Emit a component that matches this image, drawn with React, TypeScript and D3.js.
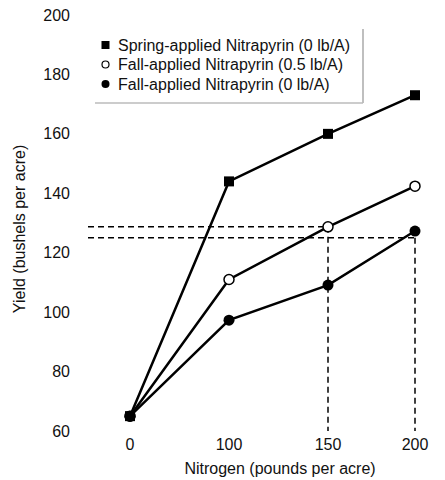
import React from "react";
import * as d3 from "d3";

const nitrogen = [0, 100, 150, 200];
const springZero = [65, 144, 160, 173];
const fallHalf = [65, 111, 128.7, 142.4];
const fallZero = [65, 97.3, 109.1, 127.3];
const yTicks = [60, 80, 100, 120, 140, 160, 180, 200];
const xTicks = [0, 100, 150, 200];
const legendLabels = [
  "Spring-applied Nitrapyrin (0 lb/A)",
  "Fall-applied Nitrapyrin (0.5 lb/A)",
  "Fall-applied Nitrapyrin (0 lb/A)",
];
const refX = [150, 200];
const refY = [128.7, 125];
const refStartX = -42;

const W = 445, H = 480;
const FONT = "'Liberation Sans', Arial, Helvetica, sans-serif";

export default function App() {
  // Non-uniform horizontal positions as in the original figure (polylinear scale)
  const x = d3.scaleLinear().domain([-42, 0, 100, 150, 200]).range([88, 130, 229, 328, 415]);
  const y = d3.scaleLinear().domain([60, 200]).range([431, 15]);

  const line = d3
    .line<number>()
    .x((_, i) => x(nitrogen[i]))
    .y((d) => y(d));

  const series = [
    { vals: springZero, marker: "square" },
    { vals: fallHalf, marker: "open" },
    { vals: fallZero, marker: "filled" },
  ];

  const marker = (kind: string, cx: number, cy: number, key: string) => {
    if (kind === "square")
      return <rect key={key} x={cx - 5} y={cy - 5} width={10} height={10} fill="#000" />;
    if (kind === "open")
      return <circle key={key} cx={cx} cy={cy} r={5} fill="#fff" stroke="#000" strokeWidth={1.5} />;
    return <circle key={key} cx={cx} cy={cy} r={5.5} fill="#000" />;
  };

  return (
    <svg width={W} height={H} style={{ position: "absolute", left: 0, top: 0, background: "#fff" }} fontFamily={FONT}>
      {/* reference dashed lines */}
      {refX.map((rx, i) => (
        <g key={"ref" + i}>
          <line x1={x(refStartX)} x2={x(rx)} y1={y(refY[i])} y2={y(refY[i])} stroke="#000" strokeWidth={1.5} strokeDasharray="6,4" />
          <line x1={x(rx)} x2={x(rx)} y1={y(refY[i])} y2={y(60)} stroke="#000" strokeWidth={1.5} strokeDasharray="6,4" />
        </g>
      ))}
      {/* lines */}
      {series.map((s, i) => (
        <path key={"l" + i} d={line(s.vals) || ""} fill="none" stroke="#000" strokeWidth={2.5} />
      ))}
      {/* markers */}
      {[...series].reverse().map((s, i) =>
        s.vals.map((v, j) => marker(s.marker, x(nitrogen[j]), y(v), `m${i}-${j}`))
      )}
      {/* y tick labels */}
      {yTicks.map((t) => (
        <text key={"y" + t} x={70} y={y(t)} dy="0.35em" textAnchor="end" fontSize={16} fill="#111">
          {t}
        </text>
      ))}
      {/* x tick labels */}
      {xTicks.map((t) => (
        <text key={"x" + t} x={x(t)} y={450} textAnchor="middle" fontSize={16} fill="#111">
          {t}
        </text>
      ))}
      <text x={280} y={474} textAnchor="middle" fontSize={16} fill="#111">
        Nitrogen (pounds per acre)
      </text>
      <text transform={`translate(25,${y(128)}) rotate(-90)`} textAnchor="middle" fontSize={16} fill="#111">
        Yield (bushels per acre)
      </text>
      {/* legend */}
      <g>
        <line x1={363} x2={363} y1={29} y2={103} stroke="#aaa" strokeWidth={1.5} />
        <line x1={95} x2={363} y1={103} y2={103} stroke="#bbb" strokeWidth={1.5} />
        <rect x={93} y={29} width={269} height={73} fill="#fff" opacity={0.9} />
        {legendLabels.map((lab, i) => {
          const cy = 45 + i * 19.5;
          const kind = series[i].marker;
          return (
            <g key={"lg" + i}>
              {kind === "square" ? (
                <rect x={101.5} y={cy - 4} width={8} height={8} fill="#000" />
              ) : kind === "open" ? (
                <circle cx={105.5} cy={cy} r={3.5} fill="#fff" stroke="#000" strokeWidth={1.2} />
              ) : (
                <circle cx={105.5} cy={cy} r={4} fill="#000" />
              )}
              <text x={118} y={cy} dy="0.35em" fontSize={16} fill="#111">
                {lab}
              </text>
            </g>
          );
        })}
      </g>
    </svg>
  );
}
